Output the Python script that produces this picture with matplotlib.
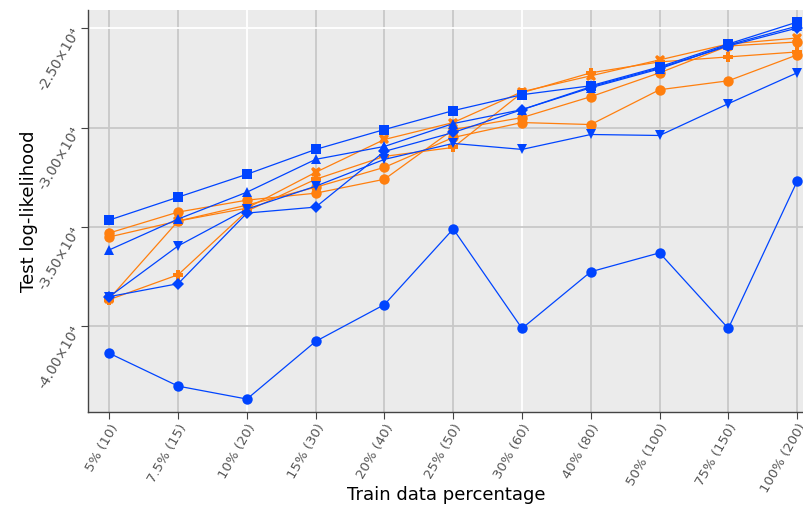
import numpy as np
import matplotlib.pyplot as plt

# train data percentages (number of samples)
labels = ['5% (10)', '7.5% (15)', '10% (20)', '15% (30)', '20% (40)', '25% (50)',
          '30% (60)', '40% (80)', '50% (100)', '75% (150)', '100% (200)']

# blue models
blue_circle = [-41350, -43000, -43650, -40750, -38900, -35100, -40100, -37250, -36300, -40100, -32700]
blue_square = [-34650, -33500, -32350, -31100, -30100, -29150, -28350, -27900, -26950, -25800, -24700]
blue_tri_up = [-36150, -34600, -33250, -31600, -30950, -29800, -29100, -28000, -27050, -25850, -24900]
blue_tri_down = [-38500, -35950, -34100, -32950, -31600, -30800, -31100, -30350, -30400, -28800, -27250]
blue_diamond = [-38500, -37850, -34300, -34000, -31200, -30250, -29100, -27950, -27000, -25900, -25000]

# orange models
orange_circle_a = [-35300, -34250, -33650, -33300, -32600, -30100, -29500, -28450, -27250, -25900, -25700]
orange_circle_b = [-35500, -34700, -33900, -33000, -32000, -30500, -29750, -29850, -28100, -27650, -26350]
orange_x = [-38600, -34700, -34050, -32250, -30600, -29750, -28200, -27400, -26600, -25800, -25500]
orange_plus = [-38650, -37400, -34200, -32600, -31450, -31000, -28250, -27250, -26700, -26450, -26200]

yticks = [-25000, -30000, -35000, -40000]
ytick_labels = ['-2.50×10⁴', '-3.00×10⁴', '-3.50×10⁴', '-4.00×10⁴']

BLUE = '#0044ff'
ORANGE = '#ff7f0e'

fig = plt.figure(figsize=(8.04, 5.08), dpi=100)
ax = fig.add_axes([0.1095, 0.189, 0.8905, 0.791])
ax.set_facecolor('#ebebeb')

x = np.arange(len(labels))

series = [
    (orange_circle_b, ORANGE, 'o'),
    (orange_circle_a, ORANGE, 'o'),
    (orange_plus, ORANGE, 'P'),
    (orange_x, ORANGE, 'X'),
    (blue_circle, BLUE, 'o'),
    (blue_tri_down, BLUE, 'v'),
    (blue_tri_up, BLUE, '^'),
    (blue_square, BLUE, 's'),
    (blue_diamond, BLUE, 'D'),
]
for vals, col, mk in series:
    ms = 6.5 if mk == 'D' else 7.5
    ax.plot(x, vals, color=col, marker=mk, markersize=ms, linewidth=0.9,
            markeredgewidth=0)

ax.set_xlim(-0.31, 10.1)
ax.set_ylim(-44300, -24100)

ax.set_xticks(x)
ax.set_xticklabels(labels, rotation=60, ha='right', rotation_mode='anchor',
                   fontsize=9.5, color='#555555')
ax.set_yticks(yticks)
ax.set_yticklabels(ytick_labels, rotation=60, ha='right', rotation_mode='anchor',
                   fontsize=10, color='#555555')

ax.grid(True, color='#c8c8c8', linewidth=1.3)
ax.set_axisbelow(True)
# a few grid lines show up white in the original
ax.get_xgridlines()[2].set_color('white')
ax.get_xgridlines()[6].set_color('white')
ax.get_ygridlines()[0].set_color('white')

for s in ['top', 'right']:
    ax.spines[s].set_visible(False)
for s in ['left', 'bottom']:
    ax.spines[s].set_color('#444444')
    ax.spines[s].set_linewidth(1.0)
ax.tick_params(direction='out', length=5, color='#444444')
ax.tick_params(axis='x', pad=2)

ax.set_xlabel('Train data percentage', fontsize=13)
ax.set_ylabel('Test log-likelihood', fontsize=13)
ax.xaxis.set_label_coords(0.5, -0.185)
ax.yaxis.set_label_coords(-0.07, 0.5)

fig.savefig('out.png', dpi=100)
